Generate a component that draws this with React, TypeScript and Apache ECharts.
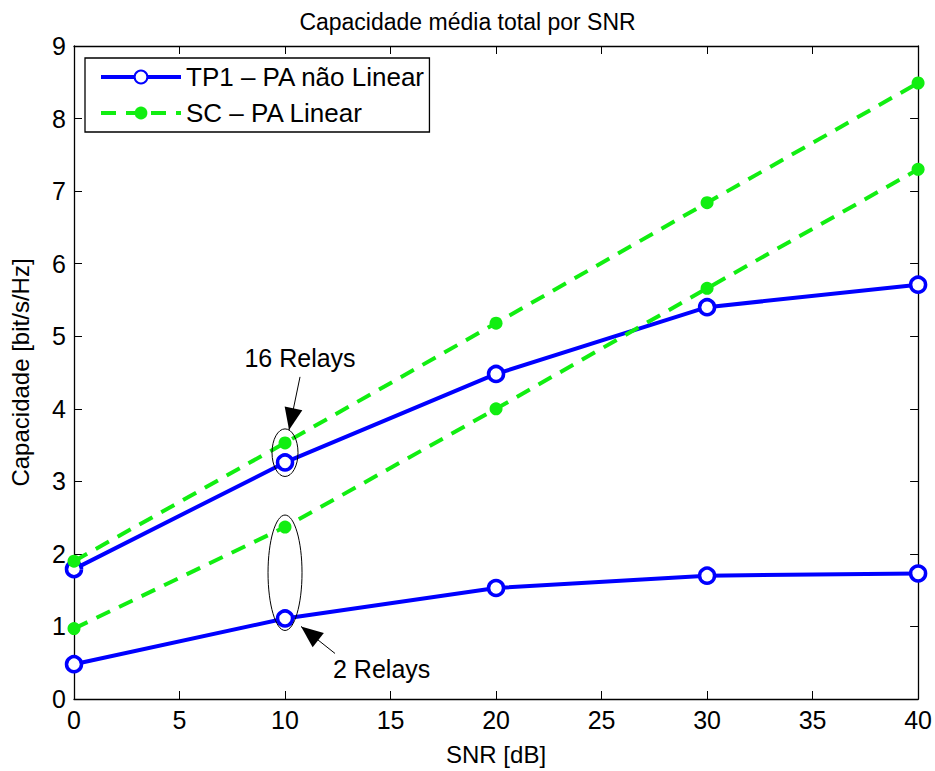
import React, { useEffect, useRef } from "react";
import * as echarts from "echarts";

const snr = [0, 10, 20, 30, 40];
const tp1Relays16 = [1.79, 3.26, 4.48, 5.4, 5.71];
const tp1Relays2 = [0.48, 1.11, 1.53, 1.7, 1.73];
const scRelays16 = [1.9, 3.53, 5.18, 6.84, 8.49];
const scRelays2 = [0.97, 2.37, 4.0, 5.66, 7.3];

const TITLE = "Capacidade média total por SNR";
const XLABEL = "SNR [dB]";
const YLABEL = "Capacidade [bit/s/Hz]";
const NAME_TP1 = "TP1 – PA não Linear";
const NAME_SC = "SC – PA Linear";

const BLUE = "#0000ff";
const GREEN = "#11ee11";
const FONT = "Liberation Sans, Arial, Helvetica, sans-serif";

export default function App() {
  const ref = useRef<HTMLDivElement>(null);
  useEffect(() => {
    const chart = echarts.init(ref.current!, null, { renderer: "svg" });
    const pair = (ys: number[]) => snr.map((x, i) => [x, ys[i]]);
    const blueSeries = (data: number[]) => ({
      type: "line",
      name: NAME_TP1,
      data: pair(data),
      symbol: "circle",
      symbolSize: 15,
      showAllSymbol: true,
      lineStyle: { color: BLUE, width: 4 },
      itemStyle: { color: "#ffffff", borderColor: BLUE, borderWidth: 3.5 },
      z: 3,
    });
    const greenSeries = (data: number[]) => ({
      type: "line",
      name: NAME_SC,
      data: pair(data),
      symbol: "circle",
      symbolSize: 13,
      lineStyle: { color: GREEN, width: 4, type: [15, 10] },
      itemStyle: { color: GREEN, borderWidth: 0 },
      z: 4,
    });
    const axisCommon = {
      axisLine: { show: true, onZero: false, lineStyle: { color: "#000", width: 1.3 } },
      axisTick: { show: true, inside: true, length: 8, lineStyle: { color: "#000" } },
      splitLine: { show: false },
    };
    chart.setOption({
      animation: false,
      backgroundColor: "#ffffff",
      textStyle: { fontFamily: FONT },
      title: {
        text: TITLE,
        left: "center",
        top: 5,
        textStyle: { fontFamily: FONT, fontSize: 23, fontWeight: "normal", color: "#000" },
      },
      legend: {
        orient: "vertical",
        left: 85,
        top: 58,
        backgroundColor: "#fff",
        borderColor: "#000",
        borderWidth: 1.3,
        padding: [6, 4, 6, 14],
        itemWidth: 80,
        itemHeight: 16,
        itemGap: 10,
        lineStyle: { width: 4 },
        textStyle: { fontFamily: FONT, fontSize: 26, color: "#000" },
        data: [NAME_TP1, NAME_SC],
      },
      grid: { left: 71, right: 16, top: 46, bottom: 68, containLabel: false },
      xAxis: [
        {
          type: "value",
          min: 0,
          max: 40,
          interval: 5,
          name: XLABEL,
          nameLocation: "middle",
          nameGap: 43,
          nameTextStyle: { fontFamily: FONT, fontSize: 24, color: "#000" },
          axisLabel: { fontFamily: FONT, fontSize: 25, color: "#000", margin: 8 },
          ...axisCommon,
        },
        {
          type: "value",
          position: "top",
          min: 0,
          max: 40,
          interval: 5,
          axisLabel: { show: false },
          ...axisCommon,
        },
      ],
      yAxis: [
        {
          type: "value",
          min: 0,
          max: 9,
          interval: 1,
          name: YLABEL,
          nameLocation: "middle",
          nameGap: 42,
          nameTextStyle: { fontFamily: FONT, fontSize: 24, color: "#000" },
          axisLabel: { fontFamily: FONT, fontSize: 25, color: "#000", margin: 8 },
          ...axisCommon,
        },
        {
          type: "value",
          position: "right",
          min: 0,
          max: 9,
          interval: 1,
          axisLabel: { show: false },
          ...axisCommon,
        },
      ],
      series: [
        blueSeries(tp1Relays16),
        blueSeries(tp1Relays2),
        greenSeries(scRelays16),
        greenSeries(scRelays2),
      ],
    });

    // annotations positioned from data points
    const px = (x: number, y: number) => chart.convertToPixel({ gridIndex: 0 }, [x, y]) as number[];
    const a16 = px(snr[1], (tp1Relays16[1] + scRelays16[1]) / 2);
    const a2 = px(snr[1], (tp1Relays2[1] + scRelays2[1]) / 2);
    const top16 = px(snr[1], scRelays16[1]);
    const bot2 = px(snr[1], tp1Relays2[1]);
    const ry16 = (a16[1] - top16[1]) + 14;
    const ry2 = (bot2[1] - a2[1]) + 12;

    const arrowHead = (tip: number[], from: number[], len = 16, half = 6) => {
      const dx = tip[0] - from[0];
      const dy = tip[1] - from[1];
      const d = Math.hypot(dx, dy);
      const ux = dx / d;
      const uy = dy / d;
      const bx = tip[0] - ux * len;
      const by = tip[1] - uy * len;
      return [
        tip,
        [bx - uy * half, by + ux * half],
        [bx + uy * half, by - ux * half],
      ];
    };
    const tip16 = [a16[0] + 4, a16[1] - ry16 + 1];
    const from16 = [a16[0] + 15, a16[1] - ry16 - 52];
    const tip2 = [bot2[0] + 16, bot2[1] + 8];
    const from2 = [bot2[0] + 50, bot2[1] + 35];

    chart.setOption({
      graphic: [
        {
          type: "ellipse",
          shape: { cx: a16[0], cy: a16[1], rx: 13, ry: ry16 },
          style: { fill: "none", stroke: "#000", lineWidth: 1 },
          z: 10,
        },
        {
          type: "ellipse",
          shape: { cx: a2[0], cy: a2[1], rx: 17, ry: ry2 },
          style: { fill: "none", stroke: "#000", lineWidth: 1 },
          z: 10,
        },
        {
          type: "line",
          shape: { x1: from16[0], y1: from16[1], x2: tip16[0], y2: tip16[1] },
          style: { stroke: "#000", lineWidth: 1 },
          z: 10,
        },
        {
          type: "polygon",
          shape: { points: arrowHead(tip16, from16, 22, 9) },
          style: { fill: "#000" },
          z: 10,
        },
        {
          type: "line",
          shape: { x1: from2[0], y1: from2[1], x2: tip2[0], y2: tip2[1] },
          style: { stroke: "#000", lineWidth: 1 },
          z: 10,
        },
        {
          type: "polygon",
          shape: { points: arrowHead(tip2, from2, 22, 9) },
          style: { fill: "#000" },
          z: 10,
        },
        {
          type: "text",
          x: from16[0],
          y: from16[1] - 6,
          style: {
            text: "16 Relays",
            fontFamily: FONT,
            fontSize: 25,
            fill: "#000",
            align: "center",
            verticalAlign: "bottom",
          },
          z: 10,
        },
        {
          type: "text",
          x: from2[0] - 2,
          y: from2[1] + 3,
          style: {
            text: "2 Relays",
            fontFamily: FONT,
            fontSize: 25,
            fill: "#000",
            align: "left",
            verticalAlign: "top",
          },
          z: 10,
        },
      ],
    });

    return () => chart.dispose();
  }, []);
  return (
    <div
      ref={ref}
      style={{ position: "fixed", left: 0, top: 0, width: 935, height: 771, background: "#fff" }}
    />
  );
}
